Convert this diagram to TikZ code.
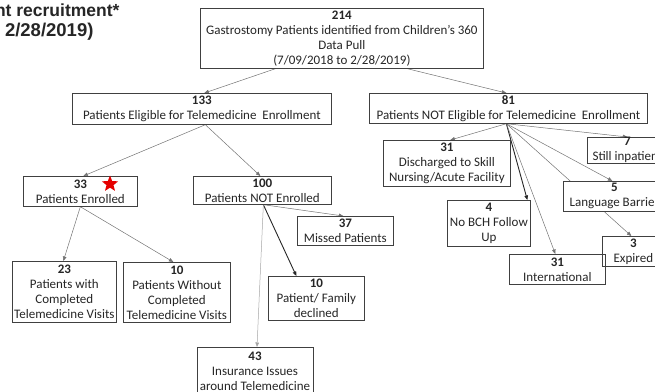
\documentclass[tikz,border=0pt]{standalone}
\usepackage{fontspec}
\setmainfont{Carlito}
\newfontfamily\titlefont{Liberation Sans}
\usetikzlibrary{arrows.meta,shapes.geometric,backgrounds}
\definecolor{boxline}{HTML}{404040}
\definecolor{boxtext}{HTML}{262626}
\tikzset{
  box/.style={draw=boxline, line width=0.7pt, fill=white, anchor=north west,
    inner sep=0pt, align=center, text=boxtext,
    font=\fontsize{13}{15}\selectfont},
  link/.style={draw=black!55, line width=0.5pt,
    -{Triangle[length=4.5pt,width=3.6pt]}},
  boldlink/.style={link, draw=black!85, line width=0.9pt},
  palelink/.style={link, draw=black!35},
  heading/.style={anchor=base east, text=boxtext,
    font=\titlefont\bfseries\fontsize{17.5}{21}\selectfont},
}
\begin{document}
\begin{tikzpicture}[x=1pt, y=-1pt]
\useasboundingbox (0,0) rectangle (655,391);
\clip (0,0) rectangle (655,391);

% heading
\node[heading] (head1) at (123,16) {nt recruitment*};
\node[heading, font=\titlefont\bfseries\fontsize{18.5}{21}\selectfont] (head2) at (97,36) {2/28/2019)};

% boxes
\node[box, minimum width=283pt, minimum height=60pt] (top) at (200,8)
  {\textbf{214}\\Gastrostomy Patients identified from Children's 360\\Data Pull\\(7/09/2018 to 2/28/2019)};
\node[box, minimum width=259pt, minimum height=31pt] (elig) at (72,93)
  {\textbf{133}\\Patients Eligible for Telemedicine\ \ Enrollment};
\node[box, minimum width=278pt, minimum height=30pt] (nelig) at (369,93)
  {\textbf{81}\\Patients NOT Eligible for Telemedicine\ \ Enrollment};
\node[box, minimum width=114pt, minimum height=30pt] (enr) at (23,176)
  {\textbf{33}\\Patients Enrolled};
\node[box, minimum width=138pt, minimum height=28pt] (nenr) at (193,176)
  {\textbf{100}\\Patients NOT Enrolled};
\node[box, minimum width=104pt, minimum height=61pt] (with) at (12,261)
  {\textbf{23}\\Patients with\\Completed\\Telemedicine\ Visits};
\node[box, minimum width=107pt, minimum height=60pt] (without) at (123,262)
  {\textbf{10}\\Patients Without\\Completed\\Telemedicine\ Visits};
\node[box, minimum width=96pt, minimum height=29pt] (missed) at (297,216)
  {\textbf{37}\\Missed Patients};
\node[box, minimum width=96pt, minimum height=44pt] (declined) at (268,276)
  {\textbf{10}\\Patient/ Family\\declined};
\node[box, minimum width=116pt, minimum height=62pt, anchor=north] (insur) at (255,347)
  {\textbf{43}\\Insurance Issues\\around Telemedicine\\ };
\node[box, minimum width=127pt, minimum height=46pt] (disch) at (383,140)
  {\textbf{31}\\Discharged to Skill\\Nursing/Acute Facility};
\node[box, minimum width=80pt, minimum height=21pt] (still) at (587,137)
  {\textbf{7}\\Still inpatient};
\node[box, minimum width=102pt, minimum height=30pt] (lang) at (563,181)
  {\textbf{5}\\Language Barrier};
\node[box, minimum width=83pt, minimum height=46pt] (nobch) at (447,200)
  {\textbf{4}\\No BCH Follow\\Up};
\node[box, fill=none, minimum width=96pt, minimum height=30pt] (intl) at (509,254)
  {\textbf{31}\\International};
\node[box, fill=none, minimum width=62pt, minimum height=30pt] (expired) at (602,236)
  {\textbf{3}\\Expired};

% marker beside the enrolled count
\node[star, star points=5, star point ratio=2.3, fill=red!90!black, draw=none,
  minimum size=17pt, inner sep=0pt] (mark) at (110,184) {};

% connectors, kept behind the boxes
\begin{pgfonlayer}{background}
\draw[link] ([xshift=-66.5pt]top.south) -- ([xshift=2.5pt]elig.north);
\draw[link] ([xshift=65.5pt]top.south) -- ([xshift=-2pt]nelig.north);
\draw[link] ([xshift=3.5pt]elig.south) -- ([xshift=3pt]enr.north);
\draw[link] ([xshift=3.5pt]elig.south) -- ([xshift=-2pt]nenr.north);
\draw[link] (enr.south) -- ([xshift=-1pt]with.north);
\draw[link] (enr.south) -- ([xshift=-3.5pt]without.north);
\draw[link] ([xshift=1pt]nenr.south) -- ([xshift=-2pt]missed.north);
\draw[boldlink] ([xshift=1pt]nenr.south) -- ([xshift=-20pt]declined.north);
\draw[palelink] ([xshift=1pt]nenr.south) -- ([xshift=2pt]insur.north);
\draw[link] ([xshift=-2pt]nelig.south) -- ([xshift=3.5pt]disch.north);
\draw[link] ([xshift=-2pt]nelig.south) -- (still.north);
\draw[link] ([xshift=-2pt]nelig.south) -- ([xshift=-2pt]lang.north);
\draw[link] ([xshift=-2pt]nelig.south) -- ([xshift=-2pt]expired.north);
\draw[boldlink] ([xshift=-2pt]nelig.south) -- ([xshift=38.5pt]nobch.north);
\draw[link] ([xshift=-2pt]nelig.south) -- ([xshift=-2pt]intl.north);
\end{pgfonlayer}
\end{tikzpicture}
\end{document}
